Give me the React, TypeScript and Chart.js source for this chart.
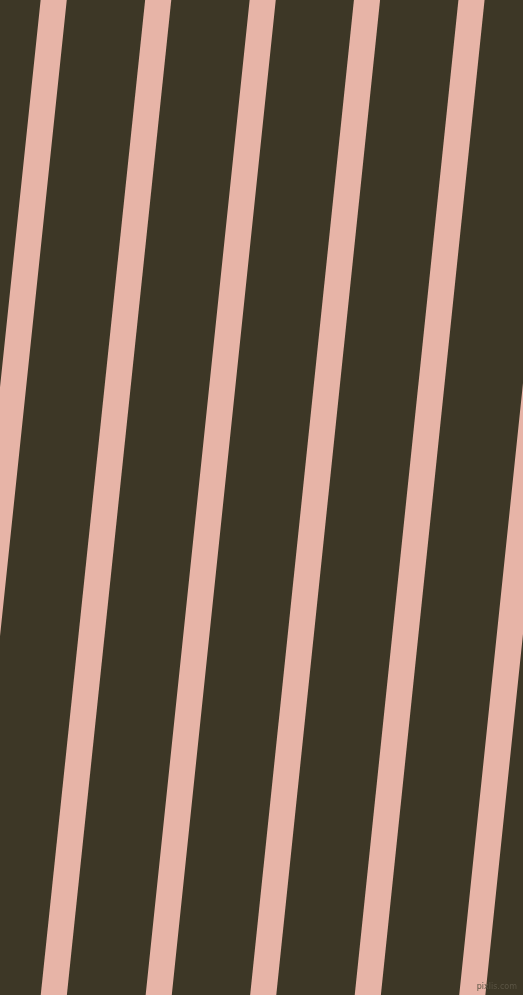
import { useEffect, useRef } from "react"
import { Chart, registerables } from "chart.js"

Chart.register(...registerables)

// Stripe centre x positions where each stripe meets the top (y = 0) and bottom (y = 995) edges
const stripeTopX = [53.7, 158.2, 262.7, 367.0, 471.5, 576.0]
const stripeBottomX = [-50.7, 53.8, 158.7, 263.2, 367.8, 472.3]
const edgeY = [0, 995]

const BG = "#3d3726"
const STRIPE = "#e7b4a7"

export default function App() {
  const chartRef = useRef<HTMLCanvasElement>(null)
  const chartInstance = useRef<Chart | null>(null)

  useEffect(() => {
    document.body.style.margin = "0"
    if (!chartRef.current) return
    if (chartInstance.current) chartInstance.current.destroy()

    const ctx = chartRef.current.getContext("2d")
    if (!ctx) return

    chartInstance.current = new Chart(ctx, {
      type: "scatter",
      data: {
        datasets: stripeTopX.map((top, i) => ({
          label: "stripe " + (i + 1),
          data: [
            { x: top, y: edgeY[0] },
            { x: stripeBottomX[i], y: edgeY[1] },
          ],
          showLine: true,
          borderColor: STRIPE,
          borderWidth: 26,
          borderCapStyle: "square" as const,
          pointRadius: 0,
          pointHoverRadius: 0,
        })),
      },
      options: {
        animation: false,
        responsive: false,
        maintainAspectRatio: false,
        layout: { padding: 0 },
        plugins: {
          legend: { display: false },
          tooltip: { enabled: false },
        },
        scales: {
          x: { type: "linear", min: 0, max: 523, display: false },
          y: { type: "linear", min: 0, max: 995, reverse: true, display: false },
        },
      },
    })

    return () => {
      if (chartInstance.current) {
        chartInstance.current.destroy()
        chartInstance.current = null
      }
    }
  }, [])

  return (
    <div style={{ position: "relative", width: 523, height: 995, background: BG, overflow: "hidden" }}>
      <canvas ref={chartRef} width={523} height={995} style={{ display: "block", width: 523, height: 995 }} />
      <span
        style={{
          position: "absolute",
          right: 6,
          bottom: 4,
          fontFamily: "DejaVu Sans, sans-serif",
          fontSize: 8,
          color: "#5a5444",
        }}
      >
        pixlis.com
      </span>
    </div>
  )
}
